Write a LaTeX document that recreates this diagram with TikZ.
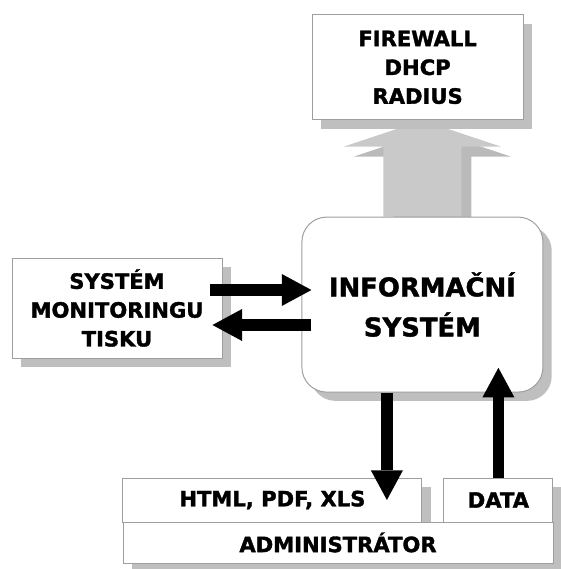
\documentclass[tikz,border=0pt]{standalone}
\usepackage{fontspec}
\setmainfont{DejaVu Sans}[BoldFeatures={FakeBold=1.6}]
\usetikzlibrary{arrows.meta, calc, shadows, backgrounds}
\definecolor{boxline}{gray}{0.62}
\definecolor{shade}{gray}{0.75}
\definecolor{upgray}{gray}{0.79}
\definecolor{upshade}{gray}{0.73}
\tikzset{
  blok/.style={rectangle, draw=boxline, line width=0.7pt, fill=white, inner sep=0pt,
               align=center, font=\bfseries\fontsize{15}{20.5}\selectfont,
               drop shadow={shadow xshift=0.22cm, shadow yshift=-0.22cm,
                            fill=shade, opacity=1}},
  hlavni/.style={blok, rounded corners=0.62cm,
                 font=\bfseries\fontsize{18.4}{28.5}\selectfont},
  sipka/.style={line width=0.28cm,
                -{Triangle[width=0.8cm, length=0.74cm, line width=0pt]}}
}
\begin{document}
\begin{tikzpicture}
  \useasboundingbox (0,0) rectangle (14.025,14.225);
  % bloky
  \node[blok, minimum width=5.275cm, minimum height=2.625cm] (fw) at (10.44,12.54)
    {FIREWALL\\DHCP\\RADIUS};
  \node[hlavni, minimum width=6.025cm, minimum height=4.375cm] (info) at (10.56,6.61)
    {INFORMAČNÍ\\SYSTÉM};
  \node[blok, minimum width=5.25cm, minimum height=2.5cm] (mon) at (2.925,6.525)
    {SYSTÉM\\MONITORINGU\\TISKU};
  \node[blok, minimum width=7.475cm, minimum height=1.1cm] (html) at (6.81,1.725)
    {HTML, PDF, XLS};
  \node[blok, minimum width=2.725cm, minimum height=1.1cm] (data) at (12.46,1.725)
    {DATA};
  \node[blok, minimum width=10.75cm, minimum height=1.025cm] (admin) at (8.45,0.6625)
    {ADMINISTRÁTOR};

  % siroka seda sipka nahoru (se stinem)
  \begin{scope}[on background layer]
    \foreach \s/\barva in {0.25/upshade, 0/upgray}
      \fill[fill=\barva, transform canvas={xshift=\s cm, yshift=-\s cm}]
        ($(info.north)+(-0.975,0)$) -- ++(0,1.75) -- ++(-0.9875,0)
        -- (info.north |- fw.south) -- ($(info.north)+(1.9625,1.75)$)
        -- ++(-0.9875,0) -- ++(0,-1.75) -- cycle;
  \end{scope}

  % cerne sipky
  \draw[sipka] ($(mon.east)+(-0.3,0.45)$) -- ($(mon.east -| info.west)+(0.25,0.45)$);
  \draw[sipka] ($(mon.east -| info.west)+(0.25,-0.425)$) -- ($(mon.east)+(-0.25,-0.425)$);
  \coordinate (dolu) at ($(html.center)+(2.8625,0)$);
  \draw[sipka] (info.south -| dolu) -- (dolu);
  \draw[sipka] (data.north) -- ($(data.north |- info.south)+(0,0.62)$);
\end{tikzpicture}
\end{document}
